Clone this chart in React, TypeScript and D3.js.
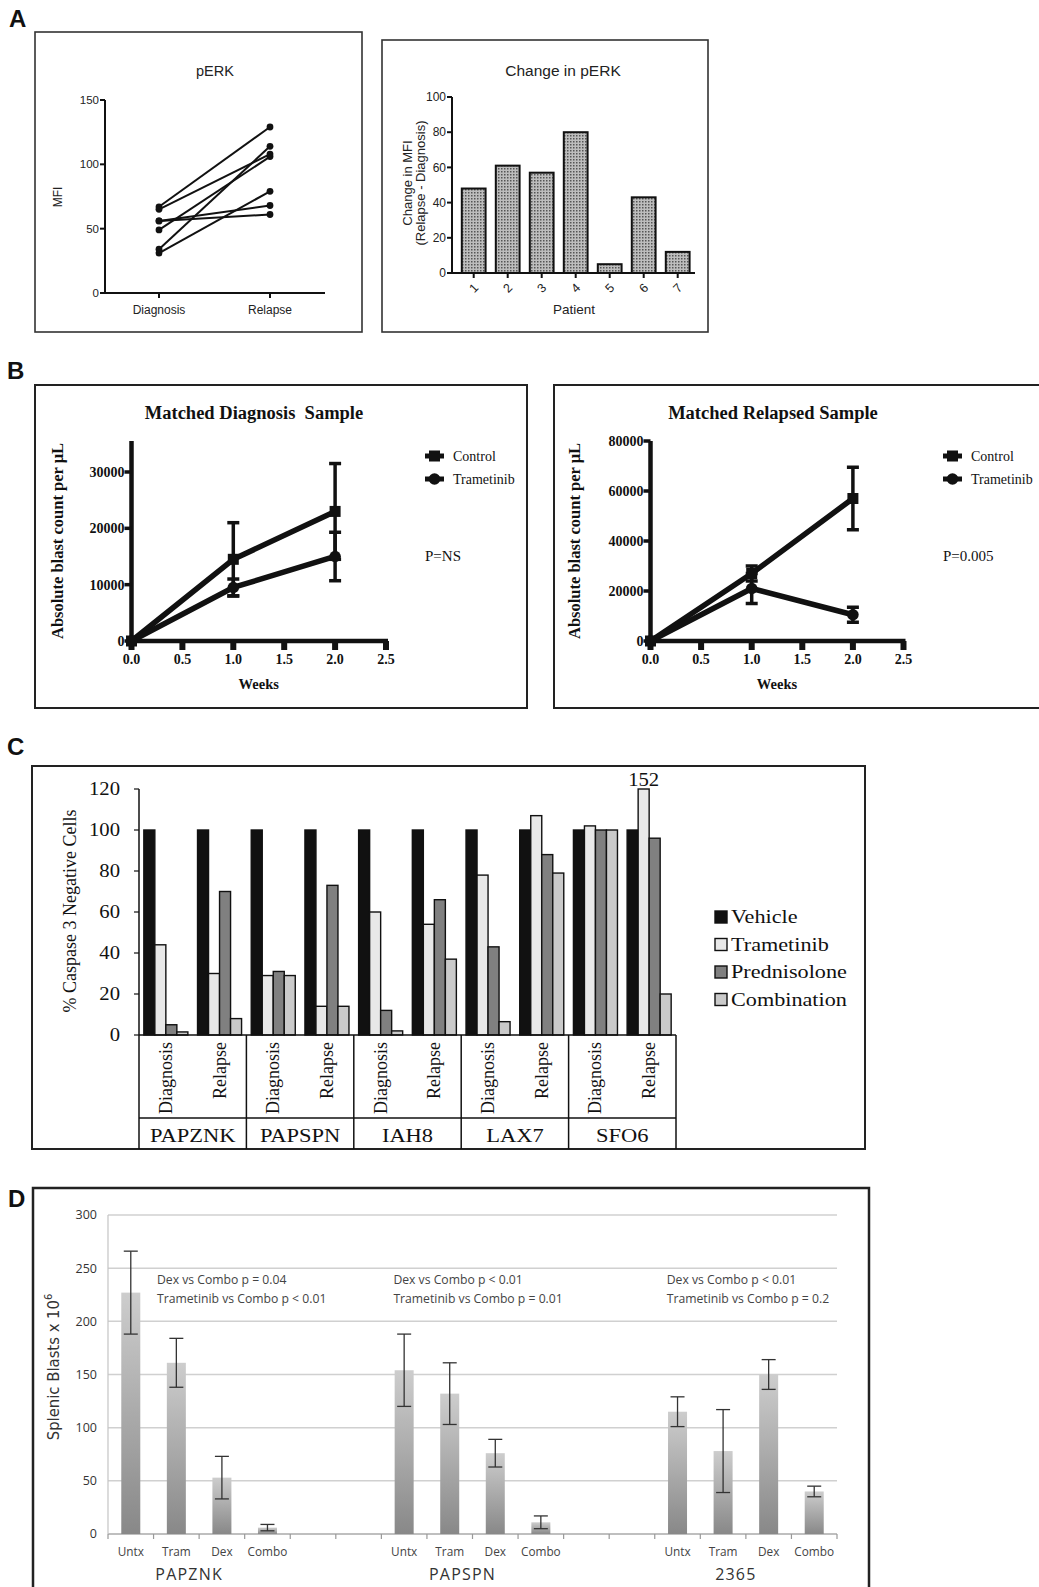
import React from "react";
import * as d3 from "d3";

const SANS = "'Liberation Sans', Arial, Helvetica, sans-serif";
const SERIF = "'Liberation Serif', 'Times New Roman', Times, serif";
const MYRIAD = "'Open Sans', 'Liberation Sans', sans-serif";
const NARROW = "'Liberation Sans Narrow', 'DejaVu Sans Condensed', 'Liberation Sans', sans-serif";

// ---------- Panel A ----------
const perkStages = ["Diagnosis", "Relapse"];
const perkDiagnosis = [31, 67, 49, 34, 56, 65, 56];
const perkRelapse = [79, 129, 106, 114, 61, 108, 68];
const perkYTicks = [0, 50, 100, 150];

const changePatients = ["1", "2", "3", "4", "5", "6", "7"];
const changeMFI = [48, 61, 57, 80, 5, 43, 12];
const changeYTicks = [0, 20, 40, 60, 80, 100];

// ---------- Panel B ----------
const weekPoints = [0, 1, 2];
const weekTicks = [0, 0.5, 1, 1.5, 2, 2.5];
const growthLegend = ["Control", "Trametinib"];
const diagControl = [0, 14500, 23000];
const diagControlSem = [0, 6500, 8500];
const diagTrametinib = [0, 9500, 15000];
const diagTrametinibSem = [0, 1500, 4300];
const diagYTicks = [0, 10000, 20000, 30000];
const relControl = [0, 27000, 57000];
const relControlSem = [0, 3000, 12500];
const relTrametinib = [0, 21000, 10500];
const relTrametinibSem = [0, 6000, 3000];
const relYTicks = [0, 20000, 40000, 60000, 80000];

// ---------- Panel C ----------
const caspPatients = ["PAPZNK", "PAPSPN", "IAH8", "LAX7", "SFO6"];
const caspSamples = ["Diagnosis", "Relapse"];
const caspTreatments = ["Vehicle", "Trametinib", "Prednisolone", "Combination"];
const caspVehicle = [100, 100, 100, 100, 100, 100, 100, 100, 100, 100];
const caspTrametinib = [44, 30, 29, 14, 60, 54, 78, 107, 102, 152];
const caspPrednisolone = [5, 70, 31, 73, 12, 66, 43, 88, 100, 96];
const caspCombination = [1.5, 8, 29, 14, 2, 37, 6.5, 79, 100, 20];
const caspYTicks = [0, 20, 40, 60, 80, 100, 120];
const caspColors = ["#111111", "#e8e8e8", "#808080", "#cacaca"];

// ---------- Panel D ----------
const spleenGroups = ["PAPZNK", "PAPSPN", "2365"];
const spleenTreatments = ["Untx", "Tram", "Dex", "Combo"];
const spleenPAPZNK = [227, 161, 53, 6];
const spleenPAPZNKErr = [39, 23, 20, 3];
const spleenPAPSPN = [154, 132, 76, 11];
const spleenPAPSPNErr = [34, 29, 13, 6];
const spleen2365 = [115, 78, 150, 40];
const spleen2365Err = [14, 39, 14, 5];
const spleenYTicks = [0, 50, 100, 150, 200, 250, 300];
const spleenDexP = ["Dex vs Combo p = 0.04", "Dex vs Combo p < 0.01", "Dex vs Combo p < 0.01"];
const spleenTramP = ["Trametinib vs Combo p < 0.01", "Trametinib vs Combo p = 0.01", "Trametinib vs Combo p = 0.2"];
const spleenNoteOffset = [49, 12, 12];

function PanelALeft() {
  const x = d3.scalePoint<string>().domain(perkStages).range([159, 270]);
  const y = d3.scaleLinear().domain([0, 150]).range([293, 100]);
  const line = d3.line<[string, number]>().x((d) => x(d[0])!).y((d) => y(d[1]));
  return (
    <g fontFamily={SANS}>
      <rect x={35} y={32} width={327} height={300} fill="none" stroke="#333" strokeWidth={1.6} />
      <text x={215} y={76} textAnchor="middle" fontSize={14.5} fill="#222">pERK</text>
      <line x1={105} x2={105} y1={y(150)} y2={y(0)} stroke="#111" strokeWidth={2} />
      <line x1={105} x2={325} y1={y(0)} y2={y(0)} stroke="#111" strokeWidth={2} />
      {perkYTicks.map((t) => (
        <g key={t}>
          <line x1={100} x2={105} y1={y(t)} y2={y(t)} stroke="#111" strokeWidth={2} />
          <text x={99} y={y(t)} dy="0.35em" textAnchor="end" fontSize={11.5} fill="#222">{t}</text>
        </g>
      ))}
      {perkStages.map((s) => (
        <g key={s}>
          <line x1={x(s)} x2={x(s)} y1={y(0)} y2={y(0) + 5} stroke="#111" strokeWidth={2} />
          <text x={x(s)} y={y(0) + 21} textAnchor="middle" fontSize={12} fill="#222">{s}</text>
        </g>
      ))}
      <text transform={`translate(62,197) rotate(-90)`} textAnchor="middle" fontSize={12} fill="#222">MFI</text>
      {perkDiagnosis.map((d, i) => (
        <path key={i} d={line([[perkStages[0], d], [perkStages[1], perkRelapse[i]]])!} fill="none" stroke="#111" strokeWidth={2} />
      ))}
      {perkDiagnosis.map((d, i) => (
        <g key={`p${i}`}>
          <circle cx={x(perkStages[0])} cy={y(d)} r={3.4} fill="#111" />
          <circle cx={x(perkStages[1])} cy={y(perkRelapse[i])} r={3.4} fill="#111" />
        </g>
      ))}
    </g>
  );
}

function PanelARight() {
  const x = d3.scaleBand<string>().domain(changePatients).range([455, 696.4]).paddingInner(0.3).paddingOuter(0.2);
  const y = d3.scaleLinear().domain([0, 100]).range([273, 97]);
  return (
    <g fontFamily={SANS}>
      <rect x={382} y={40} width={326} height={292} fill="none" stroke="#333" strokeWidth={1.6} />
      <text x={563} y={76} textAnchor="middle" fontSize={15.5} fill="#222">Change in pERK</text>
      {changeMFI.map((v, i) => (
        <rect key={i} x={x(changePatients[i])} y={y(v)} width={x.bandwidth()} height={y(0) - y(v)}
          fill="url(#dots)" stroke="#111" strokeWidth={2} />
      ))}
      <line x1={452} x2={452} y1={y(100)} y2={y(0)} stroke="#111" strokeWidth={2} />
      <line x1={452} x2={695} y1={y(0)} y2={y(0)} stroke="#111" strokeWidth={2} />
      {changeYTicks.map((t) => (
        <g key={t}>
          <line x1={447} x2={452} y1={y(t)} y2={y(t)} stroke="#111" strokeWidth={2} />
          <text x={446} y={y(t)} dy="0.35em" textAnchor="end" fontSize={12} fill="#222">{t}</text>
        </g>
      ))}
      {changePatients.map((p) => {
        const cx = x(p)! + x.bandwidth() / 2;
        return (
          <g key={p}>
            <line x1={cx} x2={cx} y1={y(0)} y2={y(0) + 5} stroke="#111" strokeWidth={2} />
            <text transform={`translate(${cx},${y(0) + 15}) rotate(-45)`} dy="0.35em" textAnchor="middle" fontSize={12.5} fill="#222">{p}</text>
          </g>
        );
      })}
      <text x={574} y={314} textAnchor="middle" fontSize={13.5} fill="#222">Patient</text>
      <text transform="translate(412,183) rotate(-90)" textAnchor="middle" fontSize={13} fill="#222">Change in MFI</text>
      <text transform="translate(425,183) rotate(-90)" textAnchor="middle" fontSize={13} fill="#222">(Relapse - Diagnosis)</text>
    </g>
  );
}

type GrowthProps = {
  boxX: number;
  boxRight: number;
  openRight: boolean;
  title: string;
  titleX: number;
  x0: number;
  x1: number;
  yMax: number;
  yTicks: number[];
  control: number[];
  controlSem: number[];
  tram: number[];
  tramSem: number[];
  legendX: number;
  pText: string;
  yLabelX: number;
};

function GrowthPanel(p: GrowthProps) {
  const x = d3.scaleLinear().domain([0, 2.5]).range([p.x0, p.x1]);
  const y = d3.scaleLinear().domain([0, p.yMax]).range([641, 441]);
  const lineGen = d3.line<number>().x((_, i) => x(weekPoints[i])).y((d) => y(d));
  const series = [
    { name: growthLegend[0], mean: p.control, sem: p.controlSem, marker: "square" },
    { name: growthLegend[1], mean: p.tram, sem: p.tramSem, marker: "circle" },
  ];
  const marker = (kind: string, cx: number, cy: number, key: string) =>
    kind === "square" ? (
      <rect key={key} x={cx - 5.5} y={cy - 5.5} width={11} height={11} fill="#111" />
    ) : (
      <circle key={key} cx={cx} cy={cy} r={5.8} fill="#111" />
    );
  const boxPath = p.openRight
    ? `M${p.boxRight},385 H${p.boxX} V708 H${p.boxRight}`
    : `M${p.boxX},385 H${p.boxRight} V708 H${p.boxX} Z`;
  return (
    <g fontFamily={SERIF}>
      <path d={boxPath} fill="none" stroke="#222" strokeWidth={2} />
      <text x={p.titleX} y={419} textAnchor="middle" fontSize={18.5} fontWeight="bold" fill="#111" style={{ whiteSpace: "pre" }}>{p.title}</text>
      <line x1={p.x0} x2={p.x0} y1={441} y2={y(0) + 2} stroke="#111" strokeWidth={4.5} />
      <line x1={p.x0 - 2} x2={p.x1 + 2} y1={y(0)} y2={y(0)} stroke="#111" strokeWidth={4.5} />
      {p.yTicks.map((t) => (
        <g key={t}>
          <line x1={p.x0 - 7} x2={p.x0} y1={y(t)} y2={y(t)} stroke="#111" strokeWidth={3.5} />
          <text x={p.x0 - 7} y={y(t)} dy="0.35em" textAnchor="end" fontSize={14} fontWeight="bold" fill="#111">{t}</text>
        </g>
      ))}
      {weekTicks.map((t) => (
        <g key={t}>
          <rect x={x(t) - 3} y={y(0)} width={6} height={9} fill="#111" />
          <text x={x(t)} y={664} textAnchor="middle" fontSize={14} fontWeight="bold" fill="#111">{t.toFixed(1)}</text>
        </g>
      ))}
      <text x={(p.x0 + p.x1) / 2} y={689} textAnchor="middle" fontSize={14.5} fontWeight="bold" fill="#111">Weeks</text>
      <text transform={`translate(${p.yLabelX},541) rotate(-90)`} textAnchor="middle" fontSize={16.5} fontWeight="bold" fill="#111">Absolute blast count per μL</text>
      {series.map((s) => (
        <path key={s.name} d={lineGen(s.mean)!} fill="none" stroke="#111" strokeWidth={5.5} strokeLinejoin="round" />
      ))}
      {series.map((s) =>
        s.mean.map((m, i) =>
          s.sem[i] > 0 ? (
            <g key={`${s.name}${i}`} stroke="#111" strokeWidth={3.5}>
              <line x1={x(weekPoints[i])} x2={x(weekPoints[i])} y1={y(m - s.sem[i])} y2={y(m + s.sem[i])} />
              <line x1={x(weekPoints[i]) - 6} x2={x(weekPoints[i]) + 6} y1={y(m - s.sem[i])} y2={y(m - s.sem[i])} />
              <line x1={x(weekPoints[i]) - 6} x2={x(weekPoints[i]) + 6} y1={y(m + s.sem[i])} y2={y(m + s.sem[i])} />
            </g>
          ) : null
        )
      )}
      {series.map((s) => s.mean.map((m, i) => marker(s.marker, x(weekPoints[i]), y(m), `${s.name}m${i}`)))}
      {series.map((s, i) => (
        <g key={`lg${s.name}`}>
          <line x1={p.legendX} x2={p.legendX + 19} y1={456 + i * 23} y2={456 + i * 23} stroke="#111" strokeWidth={5} />
          {marker(s.marker, p.legendX + 9.5, 456 + i * 23, `lgm${i}`)}
          <text x={p.legendX + 28} y={456 + i * 23} dy="0.35em" fontSize={14} fill="#111">{s.name}</text>
        </g>
      ))}
      <text x={p.legendX} y={556} dy="0.35em" fontSize={15} fill="#111">{p.pText}</text>
    </g>
  );
}

function StretchText(props: { x: number; y: number; anchor?: string; size: number; children: React.ReactNode; sx?: number }) {
  const sx = props.sx ?? 1.15;
  return (
    <text transform={`translate(${props.x},${props.y}) scale(${sx},1)`} textAnchor={props.anchor ?? "start"}
      fontSize={props.size} fontFamily={SERIF} fill="#111">{props.children}</text>
  );
}

function PanelC() {
  const keys: string[] = [];
  caspPatients.forEach((pt) => caspSamples.forEach((s) => keys.push(`${pt}|${s}`)));
  const series = [caspVehicle, caspTrametinib, caspPrednisolone, caspCombination];
  const xs = d3.scaleBand<string>().domain(keys).range([139, 676]).paddingInner(0.18).paddingOuter(0.09);
  const xt = d3.scaleBand<string>().domain(caspTreatments).range([0, xs.bandwidth()]);
  const y = d3.scaleLinear().domain([0, 120]).range([1035, 789]);
  const step = xs.step();
  const groupLeft = (gi: number) => 139 + gi * 2 * step;
  return (
    <g>
      <rect x={32} y={766} width={833} height={383} fill="none" stroke="#222" strokeWidth={2} />
      {keys.map((k, ki) =>
        caspTreatments.map((t, ti) => {
          const v = series[ti][ki];
          const vc = Math.min(v, 120);
          return (
            <rect key={`${k}${t}`} x={xs(k)! + xt(t)!} y={y(vc)} width={xt.bandwidth()} height={y(0) - y(vc)}
              fill={caspColors[ti]} stroke="#111" strokeWidth={1.4} />
          );
        })
      )}
      {keys.map((k, ki) =>
        caspTreatments.map((t, ti) => {
          const v = series[ti][ki];
          return v > 120 ? (
            <StretchText key={`lab${k}${t}`} x={xs(k)! + xt(t)! + xt.bandwidth() / 2} y={y(120) - 3} anchor="middle" size={18}>{v}</StretchText>
          ) : null;
        })
      )}
      <line x1={139} x2={139} y1={y(120)} y2={y(0)} stroke="#111" strokeWidth={1.5} />
      {caspYTicks.map((t) => (
        <g key={t}>
          <line x1={134} x2={139} y1={y(t)} y2={y(t)} stroke="#111" strokeWidth={1.2} />
          <StretchText x={120} y={y(t) + 6} anchor="end" size={18}>{t}</StretchText>
        </g>
      ))}
      <text transform="translate(76,911) rotate(-90)" textAnchor="middle" fontSize={18} fontFamily={SERIF} fill="#111">% Caspase 3 Negative Cells</text>
      <line x1={139} x2={676} y1={y(0)} y2={y(0)} stroke="#111" strokeWidth={1.5} />
      <line x1={139} x2={676} y1={1118} y2={1118} stroke="#111" strokeWidth={1.5} />
      {d3.range(caspPatients.length + 1).map((gi) => (
        <line key={`div${gi}`} x1={groupLeft(gi)} x2={groupLeft(gi)} y1={y(0)} y2={1149} stroke="#111" strokeWidth={1.5} />
      ))}
      {keys.map((k) => {
        const s = k.split("|")[1];
        const cx = xs(k)! + xs.bandwidth() / 2;
        return (
          <text key={`s${k}`} transform={`translate(${cx + 6},1042) rotate(-90)`} textAnchor="end" fontSize={18}
            fontFamily={SERIF} fill="#111">{s}</text>
        );
      })}
      {caspPatients.map((pt, gi) => (
        <StretchText key={pt} x={groupLeft(gi) + step} y={1142} anchor="middle" size={18} sx={1.25}>{pt}</StretchText>
      ))}
      {caspTreatments.map((t, i) => (
        <g key={`lg${t}`}>
          <rect x={715} y={911 + i * 27.5} width={12} height={12} fill={caspColors[i]} stroke="#111" strokeWidth={1.4} />
          <StretchText x={731} y={923 + i * 27.5} size={18.5} sx={1.2}>{t}</StretchText>
        </g>
      ))}
    </g>
  );
}

function PanelD() {
  const slots: string[] = [];
  spleenGroups.forEach((g, gi) => {
    spleenTreatments.forEach((t) => slots.push(`${g}|${t}`));
    if (gi < spleenGroups.length - 1) {
      slots.push(`gap${gi}a`);
      slots.push(`gap${gi}b`);
    }
  });
  const values = [spleenPAPZNK, spleenPAPSPN, spleen2365];
  const errs = [spleenPAPZNKErr, spleenPAPSPNErr, spleen2365Err];
  const x = d3.scaleBand<string>().domain(slots).range([108, 837]);
  const y = d3.scaleLinear().domain([0, 300]).range([1534, 1215]);
  const bw = 19;
  return (
    <g fontFamily={MYRIAD}>
      <path d="M33,1600 V1188 H869 V1600" fill="none" stroke="#222" strokeWidth={2.5} />
      {spleenYTicks.map((t) => (
        <g key={t}>
          <line x1={108} x2={837} y1={y(t)} y2={y(t)} stroke={t === 0 ? "#aaa" : "#d0d0d0"} strokeWidth={1.5} />
          <text x={97} y={y(t)} dy="0.35em" textAnchor="end" fontSize={12.5} fill="#333">{t}</text>
        </g>
      ))}
      <line x1={108} x2={108} y1={y(300)} y2={y(0)} stroke="#c4c4c4" strokeWidth={1.2} />
      {d3.range(slots.length + 1).map((i) => (
        <line key={`t${i}`} x1={108 + i * x.step()} x2={108 + i * x.step()} y1={y(0)} y2={y(0) + 5} stroke="#999" strokeWidth={1.2} />
      ))}
      {spleenGroups.map((g, gi) =>
        spleenTreatments.map((t, ti) => {
          const cx = x(`${g}|${t}`)! + x.bandwidth() / 2;
          const v = values[gi][ti];
          const e = errs[gi][ti];
          return (
            <g key={`${g}${t}`}>
              <rect x={cx - bw / 2} y={y(v)} width={bw} height={y(0) - y(v)} fill="url(#barGrad)" filter="url(#soft)" />
              <g stroke="#333" strokeWidth={1.3}>
                <line x1={cx} x2={cx} y1={y(v - e)} y2={y(v + e)} />
                <line x1={cx - 7} x2={cx + 7} y1={y(v - e)} y2={y(v - e)} />
                <line x1={cx - 7} x2={cx + 7} y1={y(v + e)} y2={y(v + e)} />
              </g>
              <text x={cx} y={1556} textAnchor="middle" fontSize={11.8} fill="#444">{t}</text>
            </g>
          );
        })
      )}
      {spleenGroups.map((g, gi) => {
        const left = x(`${g}|${spleenTreatments[0]}`)!;
        const right = x(`${g}|${spleenTreatments[3]}`)! + x.bandwidth();
        return (
          <g key={`gl${g}`}>
            <text x={(left + right) / 2 - 10} y={1580} textAnchor="middle" fontSize={16} letterSpacing={1.2} fill="#333">{g}</text>
            <text x={left + spleenNoteOffset[gi]} y={1284} fontSize={12.2} fill="#444">{spleenDexP[gi]}</text>
            <text x={left + spleenNoteOffset[gi]} y={1303} fontSize={12.2} fill="#444">{spleenTramP[gi]}</text>
          </g>
        );
      })}
      <text transform="translate(59,1367) rotate(-90)" textAnchor="middle" fontSize={16.5} fontFamily={NARROW} fill="#333">
        Splenic Blasts x 10<tspan fontSize={11} dy={-7}>6</tspan>
      </text>
    </g>
  );
}

export default function App() {
  return (
    <svg width={1039} height={1587} xmlns="http://www.w3.org/2000/svg"
      style={{ position: "absolute", left: 0, top: 0, background: "#fff" }}>
      <defs>
        <pattern id="dots" width={3} height={3} patternUnits="userSpaceOnUse">
          <rect width={3} height={3} fill="#bdbdbd" />
          <rect width={1.5} height={1.5} fill="#555" />
        </pattern>
        <linearGradient id="barGrad" x1="0" y1="0" x2="0" y2="1">
          <stop offset="0" stopColor="#cdcdcd" />
          <stop offset="1" stopColor="#888" />
        </linearGradient>
        <filter id="soft" x="-20%" y="-5%" width="140%" height="110%">
          <feGaussianBlur stdDeviation="0.7" />
        </filter>
      </defs>
      <rect width={1039} height={1587} fill="#fff" />
      <g fontFamily={SANS} fontWeight="bold" fontSize={24} fill="#111">
        <text x={9} y={27}>A</text>
        <text x={7} y={379}>B</text>
        <text x={7} y={755}>C</text>
        <text x={8} y={1207}>D</text>
      </g>
      <PanelALeft />
      <PanelARight />
      <GrowthPanel boxX={35} boxRight={527} openRight={false} title="Matched Diagnosis  Sample" titleX={254}
        x0={131.5} x1={386} yMax={35500} yTicks={diagYTicks}
        control={diagControl} controlSem={diagControlSem} tram={diagTrametinib} tramSem={diagTrametinibSem}
        legendX={425} pText="P=NS" yLabelX={63} />
      <GrowthPanel boxX={554} boxRight={1045} openRight={true} title="Matched Relapsed Sample" titleX={773}
        x0={650.5} x1={903.5} yMax={80000} yTicks={relYTicks}
        control={relControl} controlSem={relControlSem} tram={relTrametinib} tramSem={relTrametinibSem}
        legendX={943} pText="P=0.005" yLabelX={580} />
      <PanelC />
      <PanelD />
    </svg>
  );
}
